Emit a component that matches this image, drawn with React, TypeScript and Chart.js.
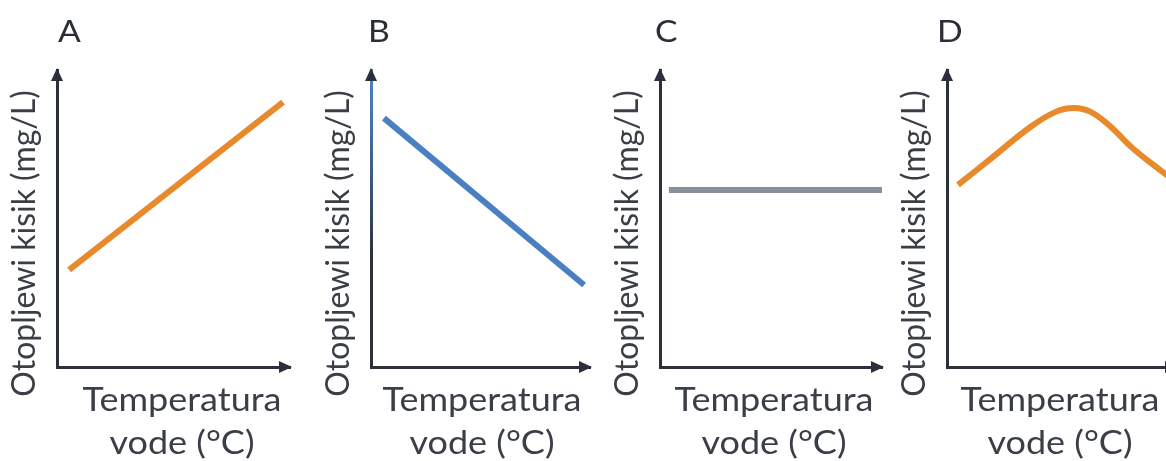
import React, { useEffect, useRef } from 'react';
import { Chart, registerables } from 'chart.js';

Chart.register(...registerables);

// ---- data ----
const panelLetters = ['A', 'B', 'C', 'D'];
const yAxisTitle = 'Otopljewi kisik (mg/L)';
const xAxisTitleLines = ['Temperatura', 'vode (°C)'];

const temperatureA = [0.52, 9.7];
const oxygenA = [3.27, 8.92];

const temperatureB = [0.59, 9.73];
const oxygenB = [8.38, 2.76];

const temperatureC = [0.4, 10];
const oxygenC = [5.96, 5.96];

const temperatureD = [0.48, 1.89, 3.64, 4.74, 5.53, 6.27, 7.15, 8.03, 8.9, 9.78];
const oxygenD = [6.13, 7.0, 8.08, 8.59, 8.72, 8.59, 8.09, 7.42, 6.87, 6.36];

const seriesX = [temperatureA, temperatureB, temperatureC, temperatureD];
const seriesY = [oxygenA, oxygenB, oxygenC, oxygenD];

// ---- layout / style ----
const H = 461;
const AXIS_TOP = 70;
const AXIS_BOTTOM = 367;
const AXIS_COLOR = '#2b303a';
const TEXT_COLOR = '#3a3e46';
const FONT = 'Lato, "Open Sans", sans-serif';
const STRETCH = 1.125;

const PANELS = [
  { left: 0, width: 300, axisLeft: 57, axisRight: 290, letterX: 58, labelCX: 182, color: '#e8892b', tension: 0, tintAxis: false },
  { left: 300, width: 300, axisLeft: 371, axisRight: 590, letterX: 368, labelCX: 482, color: '#4a80c2', tension: 0, tintAxis: true },
  { left: 600, width: 290, axisLeft: 660, axisRight: 882, letterX: 655, labelCX: 774, color: '#8b8f98', tension: 0, tintAxis: false },
  { left: 890, width: 310, axisLeft: 947, axisRight: 1176, letterX: 937, labelCX: 1060, color: '#e8892b', tension: 0.4, tintAxis: false },
];

const decorPlugin = {
  id: 'decor',
  afterDraw(chart: any, _args: any, opts: any) {
    const { ctx, chartArea } = chart;
    const { left, right, top, bottom } = chartArea;
    ctx.save();
    // arrowheads
    ctx.fillStyle = AXIS_COLOR;
    ctx.beginPath();
    ctx.moveTo(left, top - 2);
    ctx.lineTo(left - 6, top + 11);
    ctx.lineTo(left + 6, top + 11);
    ctx.closePath();
    ctx.fill();
    ctx.beginPath();
    ctx.moveTo(right + 2, bottom);
    ctx.lineTo(right - 11, bottom - 6);
    ctx.lineTo(right - 11, bottom + 6);
    ctx.closePath();
    ctx.fill();

    // panel letter
    ctx.save();
    ctx.fillStyle = '#2a2e36';
    ctx.font = `400 30px ${FONT}`;
    ctx.textAlign = 'left';
    ctx.textBaseline = 'alphabetic';
    ctx.translate(opts.letterX, 42);
    ctx.scale(STRETCH, 1);
    ctx.fillText(opts.letter, 0, 0);
    ctx.restore();

    // x-axis title
    ctx.fillStyle = TEXT_COLOR;
    ctx.font = `400 32px ${FONT}`;
    ctx.textAlign = 'center';
    ctx.textBaseline = 'alphabetic';
    ctx.save();
    ctx.translate(opts.labelCX, 411);
    ctx.scale(STRETCH, 1);
    ctx.fillText(opts.xLines[0], 0, 0);
    ctx.restore();
    ctx.save();
    ctx.translate(opts.labelCX, 454);
    ctx.scale(STRETCH, 1);
    ctx.fillText(opts.xLines[1], 0, 0);
    ctx.restore();

    // y-axis title
    ctx.translate(left - 22, 243.5);
    ctx.rotate(-Math.PI / 2);
    ctx.textAlign = 'center';
    ctx.fillText(opts.yTitle, 0, 0);
    ctx.restore();
  },
};

function Panel({ index }: { index: number }) {
  const ref = useRef<HTMLCanvasElement | null>(null);
  const p = PANELS[index];
  useEffect(() => {
    if (!ref.current) return;
    const xs = seriesX[index];
    const ys = seriesY[index];
    const yBorderColor = p.tintAxis
      ? (c: any) => {
          const g = c.chart.ctx.createLinearGradient(0, 90, 0, 260);
          g.addColorStop(0, '#4a7dbd');
          g.addColorStop(0.45, '#3f5f8c');
          g.addColorStop(1, AXIS_COLOR);
          return g;
        }
      : AXIS_COLOR;
    const chart = new Chart(ref.current, {
      type: 'line',
      data: {
        datasets: [
          {
            data: xs.map((x, i) => ({ x, y: ys[i] })),
            borderColor: p.color,
            borderWidth: 6,
            pointRadius: 0,
            tension: p.tension,
            fill: false,
          },
        ],
      },
      options: {
        animation: false,
        responsive: false,
        events: [],
        layout: {
          padding: {
            left: p.axisLeft - p.left,
            right: p.left + p.width - p.axisRight,
            top: AXIS_TOP,
            bottom: H - AXIS_BOTTOM,
          },
        },
        plugins: {
          legend: { display: false },
          tooltip: { enabled: false },
          title: { display: false },
          decor: {
            letter: panelLetters[index],
            letterX: p.letterX - p.left,
            labelCX: p.labelCX - p.left,
            xLines: xAxisTitleLines,
            yTitle: yAxisTitle,
          },
        } as any,
        scales: {
          x: {
            type: 'linear',
            min: 0,
            max: 10,
            ticks: { display: false },
            grid: { display: false, drawTicks: false },
            border: { display: true, color: AXIS_COLOR, width: 3 },
            afterFit: (s: any) => { s.height = 0; },
          },
          y: {
            type: 'linear',
            min: 0,
            max: 10,
            ticks: { display: false },
            grid: { display: false, drawTicks: false },
            border: { display: true, color: yBorderColor, width: 3 },
            afterFit: (s: any) => { s.width = 0; },
          },
        },
      },
      plugins: [decorPlugin],
    } as any);
    return () => chart.destroy();
  }, [index]);
  return (
    <canvas
      ref={ref}
      width={p.width}
      height={H}
      style={{ position: 'absolute', left: p.left, top: 0, width: p.width, height: H }}
    />
  );
}

export default function App() {
  return (
    <div
      style={{
        position: 'fixed',
        left: 0,
        top: 0,
        width: 1166,
        height: H,
        overflow: 'hidden',
        background: '#ffffff',
      }}
    >
      {PANELS.map((_, i) => (
        <Panel key={i} index={i} />
      ))}
    </div>
  );
}
